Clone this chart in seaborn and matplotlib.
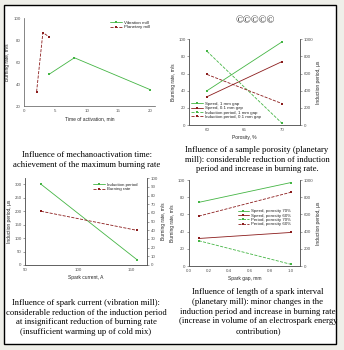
import matplotlib
matplotlib.use("Agg")
import matplotlib.pyplot as plt
import seaborn as sns
from matplotlib.patches import Rectangle

# ---- data ----
# panel 1: activation time
vib_time = [4, 8, 20]
vib_rate = [49, 64, 35]
plan_time = [2, 3, 4]
plan_rate = [33, 87, 83]

# panel 2: porosity
porosity = [60, 70]
speed_1mm = [40, 97]
speed_01mm = [33, 74]
ind_1mm = [860, 20]
ind_01mm = [590, 250]

# panel 3: spark current
current = [65, 155]
ind_current = [300, 20]
rate_current = [62, 40]

# panel 4: spark gap
gap = [0.1, 1.0]
speed_p70 = [74, 97]
speed_p60 = [32, 39]
period_p70 = [294, 20]
period_p60 = [580, 857]

captions = [
    ["Influence of mechanoactivation time:",
     "achievement of the maximum burning rate"],
    ["Influence of a sample porosity (planetary",
     "mill): considerable reduction of induction",
     "period and increase in burning rate."],
    ["Influence of spark current (vibration mill):",
     "considerable reduction of the induction period",
     "at insignificant reduction of burning rate",
     "(insufficient warming up of cold mix)"],
    ["Influence of length of a spark interval",
     "(planetary mill): minor changes in the",
     "induction period and increase in burning rate",
     "(increase in volume of an electrospark energy",
     "contribution)"],
]

sns.set_style("white")
plt.rcParams['font.family'] = ['Liberation Sans', 'DejaVu Sans']
plt.rcParams['axes.linewidth'] = 0.5

GREEN = "#44b544"
RED = "#8b1c1c"
TICK_FS = 3.2
LAB_FS = 3.5
W, H = 344, 350

fig = plt.figure(figsize=(3.44, 3.5), dpi=100)
fig.patch.set_facecolor("#efefe9")
fig.patches.append(Rectangle((4 / W, 1 - 344 / H), 332 / W, 339 / H,
                             transform=fig.transFigure, facecolor="white",
                             edgecolor="black", linewidth=1.0, zorder=-5))


def px_axes(left, right, top, bottom):
    return fig.add_axes([left / W, 1 - bottom / H, (right - left) / W, (bottom - top) / H])


def style(ax, right=False):
    ax.set_facecolor("none")
    ax.spines["top"].set_visible(False)
    ax.spines["right"].set_visible(right)
    for s in ax.spines.values():
        s.set_linewidth(0.5)
        s.set_color("#555555")
    ax.tick_params(labelsize=TICK_FS, length=1.5, width=0.4, pad=1,
                   colors="#555555", direction="out")
    ax.grid(False)


def line(ax, x, y, color, ls, label):
    sns.lineplot(x=x, y=y, ax=ax, color=color, linestyle=ls, linewidth=0.6,
                 marker="s", markersize=2.0, markeredgewidth=0,
                 label=label, legend=False)


def legend(ax, handles, labels, anchor):
    ax.legend(handles, labels, loc="upper left", bbox_to_anchor=anchor,
              frameon=False, fontsize=TICK_FS, handlelength=2.6,
              handletextpad=0.4, labelspacing=0.05, borderpad=0,
              borderaxespad=0)


# ---- panel 1 ----
ax1 = px_axes(24, 155, 18.3, 106)
line(ax1, vib_time, vib_rate, GREEN, "-", "Vibration mill")
line(ax1, plan_time, plan_rate, RED, "--", "Planetary mill")
ax1.set_xlim(0, 20.8)
ax1.set_ylim(20, 100)
ax1.set_xticks([0, 5, 10, 15, 20])
ax1.set_yticks([20, 40, 60, 80, 100])
style(ax1)
ax1.set_xlabel("Time of activation, min", fontsize=LAB_FS, labelpad=2)
ax1.set_ylabel("Burning rate, m/s", fontsize=LAB_FS, labelpad=2)
h, l = ax1.get_legend_handles_labels()
legend(ax1, h, l, (0.66, 0.97))

# ---- panel 2 ----
ax2 = px_axes(189, 300, 39.3, 125)
ax2b = ax2.twinx()
line(ax2, porosity, speed_1mm, GREEN, "-", "Speed, 1 mm gap")
line(ax2, porosity, speed_01mm, RED, "-", "Speed, 0.1 mm gap")
line(ax2b, porosity, ind_1mm, GREEN, "--", "Induction period, 1 mm gap")
line(ax2b, porosity, ind_01mm, RED, "--", "Induction period, 0.1 mm gap")
ax2.set_xlim(57.6, 72.4)
ax2.set_ylim(0, 100)
ax2b.set_ylim(0, 1000)
ax2.set_xticks([60, 65, 70])
ax2.set_yticks(range(0, 101, 20))
ax2b.set_yticks(range(0, 1001, 200))
style(ax2, right=True)
style(ax2b, right=True)
ax2.set_xlabel("Porosity, %", fontsize=LAB_FS, labelpad=2)
ax2.set_ylabel("Burning rate, m/s", fontsize=LAB_FS, labelpad=2)
ax2b.set_ylabel("Induction period, \u03bcs", fontsize=LAB_FS, labelpad=2)
h1, l1 = ax2.get_legend_handles_labels()
h2, l2 = ax2b.get_legend_handles_labels()
legend(ax2b, h1 + h2, l1 + l2, (0.02, 0.27))

# ---- panel 3 ----
ax3 = px_axes(25, 147, 178.3, 265)
ax3b = ax3.twinx()
line(ax3, current, ind_current, GREEN, "-", "Induction period")
line(ax3b, current, rate_current, RED, "--", "Burning rate")
ax3.set_xlim(50, 164.5)
ax3.set_ylim(0, 322)
ax3b.set_ylim(0, 100)
ax3.set_xticks([50, 100, 150])
ax3.set_yticks(range(0, 301, 50))
ax3b.set_yticks(range(0, 101, 10))
style(ax3, right=True)
style(ax3b, right=True)
ax3.set_xlabel("Spark current, A", fontsize=LAB_FS, labelpad=2)
ax3.set_ylabel("Induction period, \u03bcs", fontsize=LAB_FS, labelpad=2)
ax3b.set_ylabel("Burning rate, m/s", fontsize=LAB_FS, labelpad=2)
h1, l1 = ax3.get_legend_handles_labels()
h2, l2 = ax3b.get_legend_handles_labels()
legend(ax3b, h1 + h2, l1 + l2, (0.56, 0.95))

# ---- panel 4 ----
ax4 = px_axes(188.5, 300, 180, 266)
ax4b = ax4.twinx()
line(ax4, gap, speed_p70, GREEN, "-", "Speed, porosity 70%")
line(ax4, gap, speed_p60, RED, "-", "Speed, porosity 60%")
line(ax4b, gap, period_p70, GREEN, "--", "Period, porosity 70%")
line(ax4b, gap, period_p60, RED, "--", "Period, porosity 60%")
ax4.set_xlim(0, 1.09)
ax4.set_ylim(0, 100)
ax4b.set_ylim(0, 1000)
ax4.set_xticks([0.0, 0.2, 0.4, 0.6, 0.8, 1.0])
ax4.set_yticks(range(0, 101, 20))
ax4b.set_yticks(range(0, 1001, 200))
style(ax4, right=True)
style(ax4b, right=True)
ax4.set_xlabel("Spark gap, mm", fontsize=LAB_FS, labelpad=2)
ax4.set_ylabel("Burning rate, m/s", fontsize=LAB_FS, labelpad=2)
ax4b.set_ylabel("Induction period, \u03bcs", fontsize=LAB_FS, labelpad=2)
h1, l1 = ax4.get_legend_handles_labels()
h2, l2 = ax4b.get_legend_handles_labels()
legend(ax4b, h1 + h2, l1 + l2, (0.44, 0.66))

# ---- captions ----
cap_pos = [(87, 155), (257, 150), (86, 303), (258, 292.3)]
for lines, (cx, cy) in zip(captions, cap_pos):
    for i, txt in enumerate(lines):
        fig.text(cx / W, 1 - (cy + i * 9.6) / H, txt, ha="center", va="center",
                 fontsize=6.2, family="Liberation Serif", color="black")

fig.text(255 / W, 1 - 21 / H, "\u00a9\u00a9\u00a9\u00a9\u00a9", ha="center", va="center",
         fontsize=7.5, family="Liberation Serif")

fig.savefig("out.png", dpi=100, facecolor=fig.get_facecolor())
